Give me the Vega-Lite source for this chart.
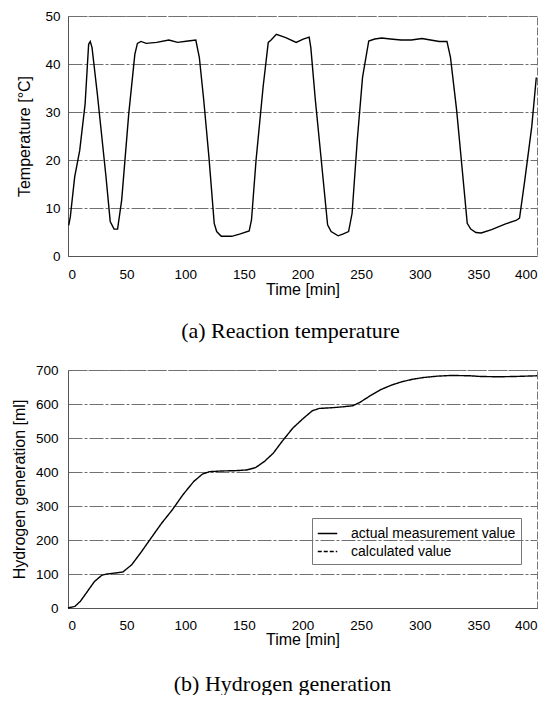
{
  "$schema": "https://vega.github.io/schema/vega-lite/v6.json",
  "padding": {"left": 10, "top": 8, "right": 6, "bottom": 0},
  "background": "white",
  "columns": 1,
  "align": "none",
  "spacing": 20,
  "resolve": {"legend": {"strokeDash": "independent"}},
  "config": {
    "font": "Liberation Sans",
    "view": {"stroke": "#777", "strokeDash": [8, 2]},
    "axis": {
      "labelFont": "Liberation Sans", "labelFontSize": 13.5, "labelColor": "#000",
      "titleFont": "Liberation Sans", "titleFontSize": 16, "titleFontWeight": "normal", "titleColor": "#000",
      "ticks": false, "labelPadding": 8, "domainColor": "#555",
      "gridColor": "#707070", "gridDash": [14, 2, 3, 2], "gridWidth": 1
    },
    "title": {"font": "Liberation Serif", "fontSize": 22, "fontWeight": "normal", "color": "#000", "orient": "bottom", "anchor": "middle", "frame": "group"}
  },
  "concat": [
    {
      "width": 469, "height": 240,
      "title": {"text": "(a) Reaction temperature", "offset": 23, "dx": -12},
      "data": {"values": [
        {"t": 0.6, "T": 6.4}, {"t": 2, "T": 8.2}, {"t": 5.7, "T": 16.5}, {"t": 10, "T": 22}, {"t": 14.6, "T": 31.7},
        {"t": 17.6, "T": 44.1}, {"t": 19, "T": 44.7}, {"t": 20.5, "T": 43.4}, {"t": 25, "T": 33.8}, {"t": 32.4, "T": 16.5},
        {"t": 36, "T": 7.2}, {"t": 39.3, "T": 5.6}, {"t": 42.3, "T": 5.6}, {"t": 45.8, "T": 11.7}, {"t": 51.8, "T": 29.6},
        {"t": 57, "T": 42}, {"t": 59.2, "T": 44.3}, {"t": 62.2, "T": 44.7}, {"t": 66.7, "T": 44.3}, {"t": 75.6, "T": 44.5},
        {"t": 86, "T": 45}, {"t": 93.5, "T": 44.5}, {"t": 102.4, "T": 44.8}, {"t": 109, "T": 45}, {"t": 112, "T": 41.4},
        {"t": 115.8, "T": 32.4}, {"t": 120.2, "T": 20.6}, {"t": 124.7, "T": 6.8}, {"t": 126.8, "T": 5.1}, {"t": 130.7, "T": 4.1},
        {"t": 139.6, "T": 4.1}, {"t": 147, "T": 4.6}, {"t": 154.5, "T": 5.2}, {"t": 156.5, "T": 7.5}, {"t": 160.4, "T": 20},
        {"t": 166.4, "T": 35.2}, {"t": 170.8, "T": 44.5}, {"t": 173.2, "T": 45}, {"t": 177.7, "T": 46.2}, {"t": 185.7, "T": 45.5},
        {"t": 194.6, "T": 44.5}, {"t": 200.6, "T": 45.2}, {"t": 205.7, "T": 45.6}, {"t": 207.1, "T": 43.4}, {"t": 211, "T": 32.4},
        {"t": 216, "T": 20}, {"t": 221.4, "T": 6.5}, {"t": 224.4, "T": 5.1}, {"t": 230.4, "T": 4.2}, {"t": 234.8, "T": 4.6},
        {"t": 239.3, "T": 5.1}, {"t": 242.3, "T": 8.9}, {"t": 246.7, "T": 24.1}, {"t": 251.2, "T": 37.2}, {"t": 256.5, "T": 44.8},
        {"t": 261.6, "T": 45.2}, {"t": 267.6, "T": 45.4}, {"t": 275, "T": 45.2}, {"t": 284, "T": 45}, {"t": 292.9, "T": 45},
        {"t": 301.8, "T": 45.3}, {"t": 309.2, "T": 45}, {"t": 316.7, "T": 44.7}, {"t": 323.2, "T": 44.7}, {"t": 326.2, "T": 41.4},
        {"t": 331.5, "T": 30.3}, {"t": 336, "T": 18.6}, {"t": 340.5, "T": 6.8}, {"t": 343.5, "T": 5.6}, {"t": 347.9, "T": 4.9},
        {"t": 352.4, "T": 4.8}, {"t": 361.3, "T": 5.5}, {"t": 373.2, "T": 6.7}, {"t": 382.1, "T": 7.4}, {"t": 385.1, "T": 7.9},
        {"t": 389.6, "T": 15.8}, {"t": 395.5, "T": 26.9}, {"t": 399.4, "T": 37.2}
      ]},
      "mark": {"type": "line", "color": "#000", "strokeWidth": 1.4},
      "encoding": {
        "x": {"field": "t", "type": "quantitative", "scale": {"domain": [0, 400], "nice": false},
              "axis": {"title": "Time [min]", "values": [0, 50, 100, 150, 200, 250, 300, 350, 400], "grid": false, "titlePadding": 1, "labelPadding": 11}},
        "y": {"field": "T", "type": "quantitative", "scale": {"domain": [0, 50], "nice": false},
              "axis": {"title": "Temperature [°C]", "values": [0, 10, 20, 30, 40, 50], "titlePadding": 12}}
      }
    },
    {
      "width": 469, "height": 238,
      "title": {"text": "(b) Hydrogen generation", "offset": 26, "dx": -20},
      "data": {"values": [
        {"t": 0, "v": 0, "s": "actual measurement value"}, {"t": 6, "v": 5, "s": "actual measurement value"},
        {"t": 10.6, "v": 20, "s": "actual measurement value"}, {"t": 16.6, "v": 49, "s": "actual measurement value"},
        {"t": 22.6, "v": 78, "s": "actual measurement value"}, {"t": 28.7, "v": 96, "s": "actual measurement value"},
        {"t": 33.2, "v": 100, "s": "actual measurement value"}, {"t": 40.8, "v": 103, "s": "actual measurement value"},
        {"t": 46.8, "v": 106, "s": "actual measurement value"}, {"t": 54.3, "v": 127, "s": "actual measurement value"},
        {"t": 61.9, "v": 162, "s": "actual measurement value"}, {"t": 70.9, "v": 206, "s": "actual measurement value"},
        {"t": 80, "v": 250, "s": "actual measurement value"}, {"t": 89, "v": 289, "s": "actual measurement value"},
        {"t": 98, "v": 333, "s": "actual measurement value"}, {"t": 107.2, "v": 372, "s": "actual measurement value"},
        {"t": 114.7, "v": 394, "s": "actual measurement value"}, {"t": 120.8, "v": 401, "s": "actual measurement value"},
        {"t": 131.3, "v": 403, "s": "actual measurement value"}, {"t": 143.4, "v": 404, "s": "actual measurement value"},
        {"t": 152.5, "v": 406, "s": "actual measurement value"}, {"t": 160, "v": 413, "s": "actual measurement value"},
        {"t": 167.5, "v": 431, "s": "actual measurement value"}, {"t": 175, "v": 455, "s": "actual measurement value"},
        {"t": 182.6, "v": 490, "s": "actual measurement value"}, {"t": 191.7, "v": 529, "s": "actual measurement value"},
        {"t": 200.8, "v": 558, "s": "actual measurement value"}, {"t": 208.3, "v": 580, "s": "actual measurement value"},
        {"t": 214.3, "v": 587, "s": "actual measurement value"}, {"t": 224.9, "v": 589, "s": "actual measurement value"},
        {"t": 235.5, "v": 592, "s": "actual measurement value"}, {"t": 243, "v": 595, "s": "actual measurement value"},
        {"t": 249, "v": 605, "s": "actual measurement value"}, {"t": 258.1, "v": 625, "s": "actual measurement value"},
        {"t": 267.2, "v": 643, "s": "actual measurement value"}, {"t": 276.2, "v": 656, "s": "actual measurement value"},
        {"t": 285.3, "v": 666, "s": "actual measurement value"}, {"t": 294.3, "v": 673, "s": "actual measurement value"},
        {"t": 303.4, "v": 678, "s": "actual measurement value"}, {"t": 315.5, "v": 682, "s": "actual measurement value"},
        {"t": 327.5, "v": 684, "s": "actual measurement value"}, {"t": 342.6, "v": 683, "s": "actual measurement value"},
        {"t": 351.7, "v": 681, "s": "actual measurement value"}, {"t": 366.8, "v": 680, "s": "actual measurement value"},
        {"t": 381.9, "v": 681, "s": "actual measurement value"}, {"t": 400, "v": 683, "s": "actual measurement value"}
      ]},
      "mark": {"type": "line", "color": "#000", "strokeWidth": 1.4},
      "encoding": {
        "x": {"field": "t", "type": "quantitative", "scale": {"domain": [0, 400], "nice": false},
              "axis": {"title": "Time [min]", "values": [0, 50, 100, 150, 200, 250, 300, 350, 400], "grid": false, "titlePadding": 0, "labelPadding": 10}},
        "y": {"field": "v", "type": "quantitative", "scale": {"domain": [0, 700], "nice": false},
              "axis": {"title": "Hydrogen generation [ml]", "values": [0, 100, 200, 300, 400, 500, 600, 700], "titlePadding": 8, "labelPadding": 10}},
        "strokeDash": {"field": "s", "type": "nominal",
          "scale": {"domain": ["actual measurement value", "calculated value"], "range": [[1, 0], [4, 2]]},
          "legend": {"title": null, "orient": "none", "legendX": 244, "legendY": 148,
            "symbolType": "stroke", "symbolSize": 380, "symbolStrokeColor": "#000", "symbolStrokeWidth": 1.3,
            "labelFont": "Liberation Sans", "labelFontSize": 14, "labelColor": "#000", "labelLimit": 300,
            "strokeColor": "#777", "padding": 5, "rowPadding": 0, "labelOffset": 13}}
      }
    }
  ]
}
